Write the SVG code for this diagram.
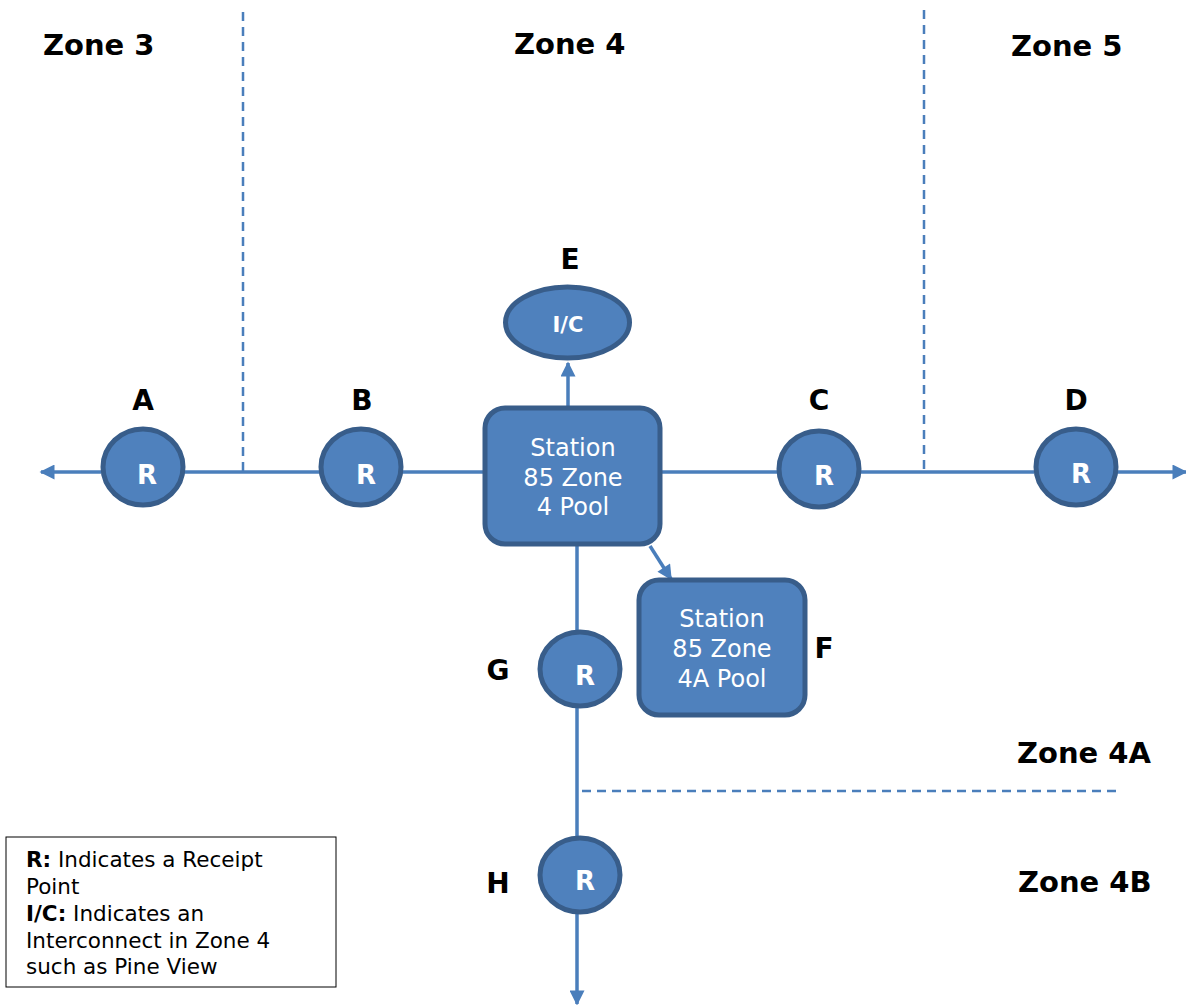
<svg xmlns="http://www.w3.org/2000/svg" width="1186" height="1005" viewBox="0 0 1186 1005">
<style>
.ln{stroke:#4A7EBB;stroke-width:3.5;fill:none}
.dash{stroke:#4A7EBB;stroke-width:2.5;fill:none;stroke-dasharray:9 6}
.shp{fill:#4F81BD;stroke:#385D8A;stroke-width:5}
.lbl{font-family:"DejaVu Sans",Verdana,sans-serif;font-weight:bold;font-size:28px;fill:#000;text-anchor:middle}
.zone{font-family:"DejaVu Sans",Verdana,sans-serif;font-weight:bold;font-size:29px;fill:#000}
.r{font-family:"DejaVu Sans",Verdana,sans-serif;font-weight:bold;font-size:26px;fill:#fff;text-anchor:middle}
.st{font-family:"DejaVu Sans",Verdana,sans-serif;font-size:24px;fill:#fff;text-anchor:middle}
.lg{font-family:"DejaVu Sans",Verdana,sans-serif;font-size:21.5px;fill:#000}
</style>
<defs>
<marker id="ahb" viewBox="0 0 10 10" refX="9" refY="5" markerWidth="16" markerHeight="15" orient="auto" markerUnits="userSpaceOnUse">
<path d="M0,0 L10,5 L0,10 z" fill="#4A7EBB"/>
</marker>
</defs>
<g id="zones">
<line class="dash" x1="243" y1="12" x2="243" y2="472"/>
<line class="dash" x1="924" y1="10" x2="924" y2="470"/>
<line class="dash" x1="582" y1="791" x2="1117" y2="791"/>
<text class="zone" x="43" y="55">Zone 3</text>
<text class="zone" x="514" y="54">Zone 4</text>
<text class="zone" x="1011" y="56">Zone 5</text>
<text class="zone" x="1017" y="763">Zone 4A</text>
<text class="zone" x="1018" y="892">Zone 4B</text>
</g>
<g id="connectors">
<line class="ln" x1="101" y1="472" x2="41" y2="472" marker-end="url(#ahb)"/>
<line class="ln" x1="184" y1="472" x2="320" y2="472"/>
<line class="ln" x1="402" y1="472" x2="485" y2="472"/>
<line class="ln" x1="661" y1="472" x2="778" y2="472"/>
<line class="ln" x1="860" y1="472" x2="1034" y2="472"/>
<line class="ln" x1="1117" y1="472" x2="1186" y2="472" marker-end="url(#ahb)"/>
<line class="ln" x1="568" y1="407" x2="568" y2="363" marker-end="url(#ahb)"/>
<line class="ln" x1="650" y1="546" x2="671" y2="579" marker-end="url(#ahb)"/>
<line class="ln" x1="577" y1="546" x2="577" y2="631"/>
<line class="ln" x1="577" y1="708" x2="577" y2="837"/>
<line class="ln" x1="577" y1="914" x2="577" y2="1004" marker-end="url(#ahb)"/>
</g>
<g id="nodeA"><ellipse class="shp" cx="143" cy="467" rx="40" ry="38"/><text class="r" x="147" y="484">R</text><text class="lbl" x="143" y="410">A</text></g>
<g id="nodeB"><ellipse class="shp" cx="361" cy="467" rx="40" ry="38"/><text class="r" x="366" y="484">R</text><text class="lbl" x="362" y="410">B</text></g>
<g id="nodeC"><ellipse class="shp" cx="819" cy="469" rx="40" ry="38"/><text class="r" x="824" y="485">R</text><text class="lbl" x="819" y="410">C</text></g>
<g id="nodeD"><ellipse class="shp" cx="1076" cy="467" rx="40" ry="38"/><text class="r" x="1081" y="483">R</text><text class="lbl" x="1076" y="410">D</text></g>
<g id="nodeG"><ellipse class="shp" cx="580" cy="669" rx="40" ry="37"/><text class="r" x="585" y="685">R</text><text class="lbl" x="498" y="680">G</text></g>
<g id="nodeH"><ellipse class="shp" cx="580" cy="875" rx="40" ry="37"/><text class="r" x="585" y="890">R</text><text class="lbl" x="498" y="893">H</text></g>
<g id="nodeE"><ellipse class="shp" cx="567.5" cy="322.5" rx="62" ry="35.5"/><text class="r" x="568" y="332" style="font-size:21px">I/C</text><text class="lbl" x="570" y="269">E</text></g>
<g id="station4"><rect class="shp" x="485" y="408" width="175" height="136" rx="20"/>
<text class="st" x="573" y="456">Station</text><text class="st" x="573" y="486">85 Zone</text><text class="st" x="573" y="515">4 Pool</text></g>
<g id="stationF"><rect class="shp" x="639" y="580" width="166" height="135" rx="20"/>
<text class="st" x="722" y="627">Station</text><text class="st" x="722" y="657">85 Zone</text><text class="st" x="722" y="687">4A Pool</text><text class="lbl" x="824" y="658">F</text></g>
<g id="legend"><rect x="6" y="837" width="330" height="150" fill="#fff" stroke="#000" stroke-width="1"/>
<text class="lg" x="26" y="867"><tspan font-weight="bold">R:</tspan> Indicates a Receipt</text>
<text class="lg" x="26" y="894">Point</text>
<text class="lg" x="26" y="921"><tspan font-weight="bold">I/C:</tspan> Indicates an</text>
<text class="lg" x="26" y="948">Interconnect in Zone 4</text>
<text class="lg" x="26" y="974">such as Pine View</text>
</g>
</svg>
